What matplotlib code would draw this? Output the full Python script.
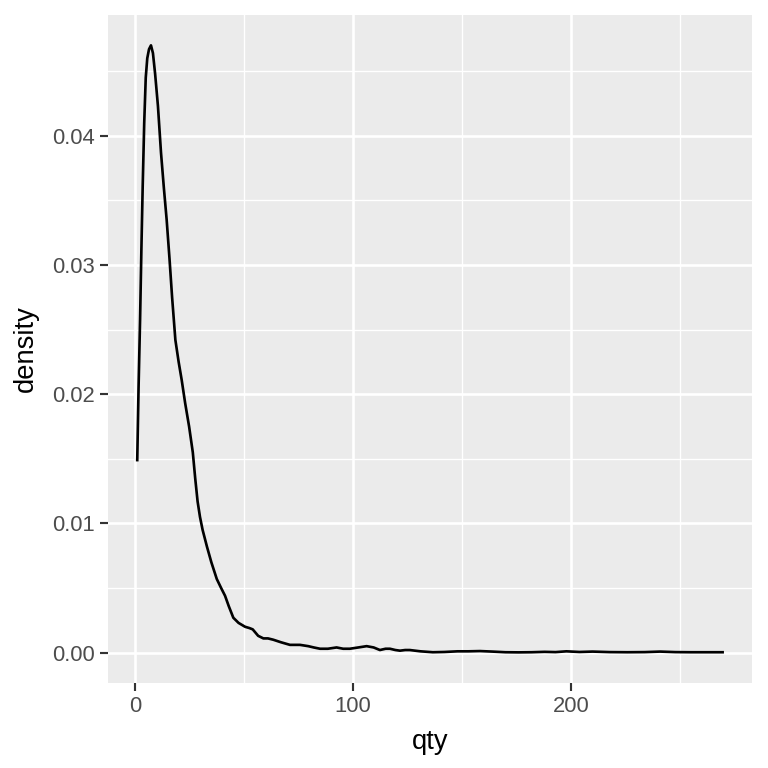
import numpy as np
import matplotlib.pyplot as plt

# density curve (qty vs density)
qty = [1.0, 1.6, 2.3, 2.9, 3.5, 4.2, 4.9, 5.6, 6.4, 7.3, 8.2, 9.2, 10.5, 11.9, 13.2, 14.5,
       15.8, 17.0, 18.5, 20.0, 21.4, 23.0, 24.8, 26.5, 27.6, 28.7, 29.8, 31.0, 33.0, 35.0,
       37.5, 39.5, 41.3, 43.0, 45.1, 47.5, 50.5, 52.5, 54.0, 56.5, 58.9, 61.0, 63.4, 67.0,
       71.1, 75.7, 79.5, 82.0, 84.9, 88.5, 92.5, 95.5, 98.6, 102.5, 106.3, 109.5, 112.4,
       115.0, 117.0, 119.5, 121.6, 124.0, 126.1, 131.0, 136.7, 142.0, 148.0, 153.0, 158.3,
       164.0, 170.0, 176.0, 182.0, 188.0, 193.0, 198.0, 204.0, 210.0, 218.0, 226.0, 234.0,
       241.0, 248.0, 255.0, 262.0, 269.7]
density = [0.0149, 0.0205, 0.0258, 0.0312, 0.0361, 0.0410, 0.0445, 0.0460, 0.0467, 0.0470,
           0.0464, 0.0448, 0.0423, 0.0387, 0.0360, 0.0335, 0.0305, 0.0275, 0.0242, 0.0225,
           0.0211, 0.0193, 0.0175, 0.0155, 0.0135, 0.0117, 0.0105, 0.0095, 0.0082, 0.0070,
           0.0057, 0.0050, 0.0044, 0.0036, 0.0027, 0.0023, 0.0020, 0.0019, 0.0018, 0.0013,
           0.0011, 0.0011, 0.0010, 0.0008, 0.0006, 0.0006, 0.0005, 0.0004, 0.0003, 0.0003,
           0.0004, 0.0003, 0.0003, 0.0004, 0.0005, 0.0004, 0.0002, 0.0003, 0.0003, 0.0002,
           0.00015, 0.0002, 0.0002, 0.0001, 0.00003, 0.00005, 0.0001, 0.0001, 0.00012,
           0.00008, 0.00003, 0.00002, 0.00003, 0.00006, 0.00004, 0.0001, 0.00005, 0.00008,
           0.00004, 0.00003, 0.00004, 0.00008, 0.00004, 0.00003, 0.00003, 0.00003]

x_ticks = [0, 100, 200]
y_ticks = [0.00, 0.01, 0.02, 0.03, 0.04]

plt.rcParams['font.family'] = ['Liberation Sans', 'DejaVu Sans']

fig = plt.figure(figsize=(8, 8), dpi=96)
ax = fig.add_axes([0.1406, 0.1107, 0.979 - 0.1406, 0.9805 - 0.1107])
ax.set_facecolor('#EBEBEB')

ax.plot(qty, density, color='black', lw=2.0, zorder=3)

# ggplot-like expansion
xr = max(qty) - min(qty)
ax.set_xlim(min(qty) - 0.05 * xr, max(qty) + 0.05 * xr)
ax.set_ylim(-0.05 * 0.047, 0.047 * 1.05)

ax.set_xticks(x_ticks)
ax.set_xticklabels([str(t) for t in x_ticks])
ax.set_yticks(y_ticks)
ax.set_yticklabels([f"{t:.2f}" for t in y_ticks])
ax.set_xticks([50, 150, 250], minor=True)
ax.set_yticks([0.005, 0.015, 0.025, 0.035, 0.045], minor=True)

ax.grid(True, which='major', color='white', lw=2.0)
ax.grid(True, which='minor', color='white', lw=1.0)
ax.set_axisbelow(True)
for s in ax.spines.values():
    s.set_visible(False)

ax.tick_params(which='major', length=6, width=1.6, color='#333333',
               labelcolor='#4D4D4D', labelsize=16.5, pad=4)
ax.tick_params(which='minor', length=0)

ax.set_xlabel('qty', fontsize=20.5, labelpad=9)
ax.set_ylabel('density', fontsize=20.5, labelpad=10)

fig.savefig('out.png', dpi=96)
